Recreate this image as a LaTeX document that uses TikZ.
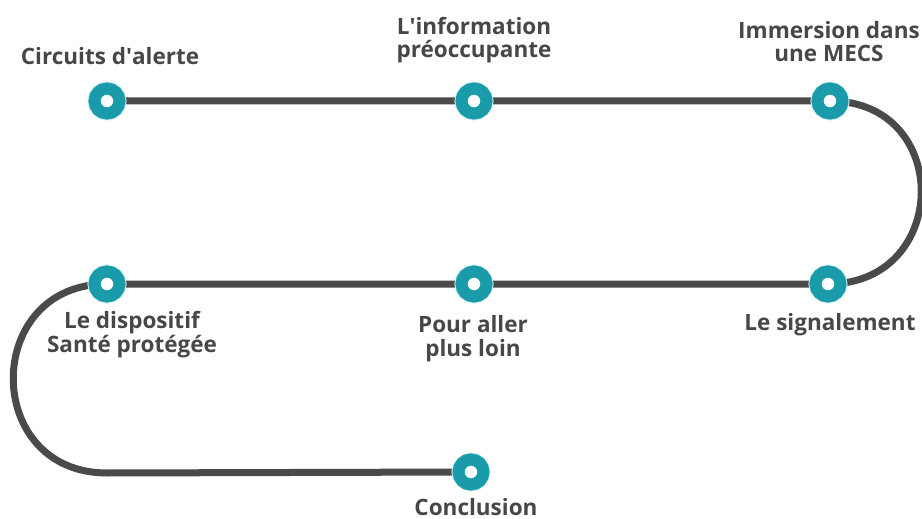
\documentclass[tikz,border=0pt]{standalone}
\usepackage{fontspec}
\setmainfont{Open Sans}
\usetikzlibrary{positioning,backgrounds}

\definecolor{stepteal}{HTML}{1A9BA9}
\definecolor{halo}{HTML}{CFEFF3}
\definecolor{trackgray}{HTML}{4A4A4A}
\definecolor{labelgray}{HTML}{474747}

\tikzset{
  stop/.style={circle, draw=stepteal, fill=white, line width=12pt, minimum size=25pt, inner sep=0pt,
    preaction={draw=halo, line width=14pt}},
  lbl/.style={align=center, anchor=base, inner sep=0pt, text=labelgray,
    font=\fontsize{22.5}{23.5}\selectfont\bfseries},
  track/.style={draw=trackgray, line width=7pt}
}

\begin{document}
\begin{tikzpicture}[x=1pt,y=-1pt]
  \useasboundingbox (0,0) rectangle (922,519);
  % stops
  \node[stop] (circ) at (107,101) {};
  \node[stop] (info) at (474,101) {};
  \node[stop] (mecs) at (830,101) {};
  \node[stop] (sign) at (828,284) {};
  \node[stop] (loin) at (474,284) {};
  \node[stop] (disp) at (107,284) {};
  \node[stop] (concl) at (471,472) {};
  \coordinate (bend) at (107,473);
  % labels (base = last line)
  \node[lbl] (circ-t) at (110,65) {Circuits d\textquotesingle alerte};
  \node[lbl] (info-t) at (474,58) {L\textquotesingle information\\préoccupante};
  \node[lbl] (mecs-t) at (829,62) {Immersion dans\\une MECS};
  \node[lbl] (sign-t) at (830,330) {Le signalement};
  \node[lbl] (loin-t) at (473,356) {Pour aller\\plus loin};
  \node[lbl] (disp-t) at (132,352) {Le dispositif\\Santé protégée};
  \node[lbl] (concl-t) at (476,515) {Conclusion};
  % track
  \begin{pgfonlayer}{background}
    \draw[track] (circ.center) -- (info.center) -- (mecs.center)
      .. controls +(123,0) and +(123,0) .. (sign.center)
      -- (loin.center) -- (disp.center)
      .. controls +(-125,0) and +(-125,0) .. (bend)
      -- (concl.center);
  \end{pgfonlayer}
\end{tikzpicture}
\end{document}
